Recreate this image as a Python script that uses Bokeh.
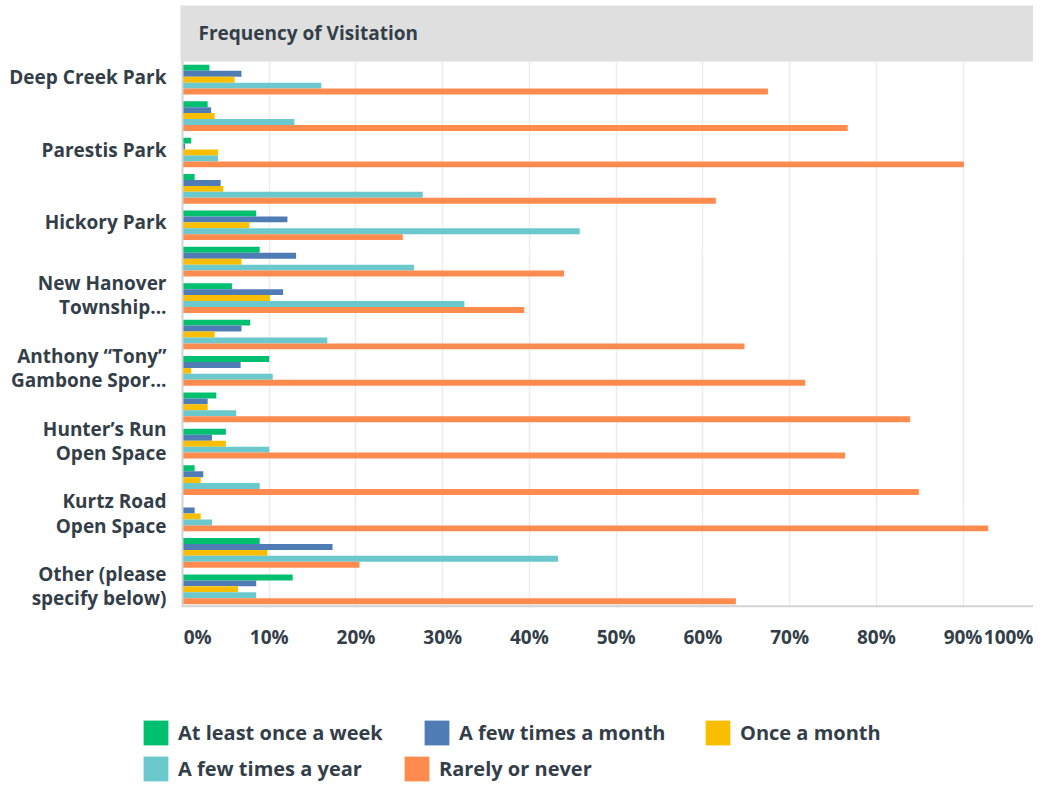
from bokeh.plotting import figure
from bokeh.layouts import column
from bokeh.models import (Range1d, FixedTicker, CustomJSTickFormatter, BoxAnnotation,
                          Span, Label, Legend, LegendItem, ColumnDataSource)
from bokeh.embed import file_html
from bokeh.resources import INLINE

# ---------------- data ----------------
# 15 parks; the chart only prints every other label
park_labels = [
    "Deep Creek Park", "", "Parestis Park", "", "Hickory Park", "",
    "New Hanover\nTownship...", "", "Anthony \u201cTony\u201d\nGambone Spor...", "",
    "Hunter\u2019s Run\nOpen Space", "", "Kurtz Road\nOpen Space", "",
    "Other (please\nspecify below)",
]
series_names = ["At least once a week", "A few times a month", "Once a month",
                "A few times a year", "Rarely or never"]
at_least_weekly = [3.1, 2.9, 1.0, 1.4, 8.5, 8.9, 5.7, 7.8, 10.0, 3.9, 5.0, 1.4, 0.0, 8.9, 12.7]
few_times_month = [6.8, 3.3, 0.3, 4.4, 12.1, 13.1, 11.6, 6.8, 6.7, 2.9, 3.4, 2.4, 1.4, 17.3, 8.5]
once_a_month = [6.0, 3.7, 4.1, 4.7, 7.7, 6.8, 10.1, 3.7, 1.0, 2.9, 5.0, 2.1, 2.1, 9.8, 6.4]
few_times_year = [16.0, 12.9, 4.1, 27.7, 45.8, 26.7, 32.5, 16.7, 10.4, 6.2, 10.0, 8.9, 3.4, 43.3, 8.5]
rarely_never = [67.5, 76.7, 90.1, 61.5, 25.4, 44.0, 39.4, 64.8, 71.8, 83.9, 76.4, 84.9, 92.9, 20.4, 63.8]
x_tick_labels = ["0%", "10%", "20%", "30%", "40%", "50%", "60%", "70%", "80%", "90%", "100%"]
chart_title = "Frequency of Visitation"

series_values = [at_least_weekly, few_times_month, once_a_month, few_times_year, rarely_never]
colors = ["#00bf6f", "#507cb6", "#f9be00", "#6bc8cd", "#ff8b4f"]
TEXT = "#333e48"
FONT = "Open Sans"

W = 1033
H_MAIN, H_LEG = 660, 124
FRAME_LEFT = 140          # frame starts left of the 0% line so the legend can sit there
PX_PER_PCT = 8.673
x_start = -(182 - FRAME_LEFT) / PX_PER_PCT
x_end = x_start + (W - FRAME_LEFT) / PX_PER_PCT
n = len(park_labels)
header_units = 1.538
p = figure(width=W, height=H_MAIN, output_backend="svg", toolbar_location=None,
           x_range=Range1d(x_start, x_end), y_range=Range1d(n - 0.5, -0.5 - header_units),
           min_border_left=FRAME_LEFT, min_border_right=0, min_border_top=5,
           min_border_bottom=53)
p.outline_line_color = None
p.background_fill_color = "white"
p.border_fill_color = "white"

# grid
p.ygrid.visible = False
p.xgrid.ticker = FixedTicker(ticks=[10, 20, 30, 40, 50, 60, 70, 80, 90, 100])
p.xgrid.grid_line_color = "#ececec"
p.xgrid.grid_line_width = 1.5

# x axis (end labels nudged inside like the original)
x_tick_pos = [1.75] + [10 * i for i in range(1, 10)] + [96.6]
p.xaxis.ticker = FixedTicker(ticks=x_tick_pos)
p.xaxis.formatter = CustomJSTickFormatter(args=dict(labels=x_tick_labels),
                                          code="return labels[index]")
p.xaxis.axis_line_color = None
p.xaxis.major_tick_line_color = None
p.xaxis.minor_tick_line_color = None
p.xaxis.major_label_standoff = 10
p.xaxis.major_label_text_font = FONT
p.xaxis.major_label_text_font_style = "bold"
p.xaxis.major_label_text_font_size = "19px"
p.xaxis.major_label_text_color = TEXT

# y axis (labels reach into the blank strip left of the 0% line)
label_idx = [i for i, s in enumerate(park_labels) if s]
p.yaxis.ticker = FixedTicker(ticks=[i - 0.08 for i in label_idx])
p.yaxis.formatter = CustomJSTickFormatter(args=dict(labels=[park_labels[i] for i in label_idx]),
                                          code="return labels[index]")
p.yaxis.axis_line_color = None
p.yaxis.major_tick_line_color = None
p.yaxis.minor_tick_line_color = None
p.yaxis.major_label_standoff = FRAME_LEFT - 172
p.yaxis.major_label_text_font = FONT
p.yaxis.major_label_text_font_style = "bold"
p.yaxis.major_label_text_font_size = "19px"
p.yaxis.major_label_text_color = TEXT
p.yaxis.major_label_text_line_height = 0.93

# left line, bottom line, header band
p.add_layout(Span(location=0, dimension="height", line_color="#d3d3d3", line_width=2))
p.add_layout(BoxAnnotation(left=0, right=x_end, bottom=n - 0.5, top=n - 0.5 - 0.06,
                           fill_color="#d3d3d3", fill_alpha=1, line_color=None))
p.add_layout(BoxAnnotation(left=-0.23, right=x_end, top=-0.5 - header_units - 0.1, bottom=-0.5,
                           fill_color="#dfdfdf", fill_alpha=1, line_color=None))
p.add_layout(Label(x=0, y=-0.5 - header_units / 2, x_offset=16, text=chart_title,
                   text_baseline="middle", text_font=FONT, text_font_style="bold",
                   text_font_size="19px", text_color=TEXT))

# bars
bar_h = 0.163
for j, (name, vals, col) in enumerate(zip(series_names, series_values, colors)):
    src = ColumnDataSource(dict(y=[i + (j - 2) * bar_h for i in range(n)], right=vals))
    p.hbar(y="y", left=0, right="right", height=bar_h, source=src,
           fill_color=col, line_color=None)

# ---------------- legend strip below the chart ----------------
pl = figure(width=W, height=H_LEG, output_backend="svg", toolbar_location=None,
            x_range=Range1d(0, 1), y_range=Range1d(0, 1),
            x_axis_location=None, y_axis_location=None,
            min_border_left=FRAME_LEFT, min_border_right=0,
            min_border_top=0, min_border_bottom=0)
pl.outline_line_color = None
pl.grid.visible = False
pl.border_fill_color = "white"
pl.background_fill_color = "white"
# zero-size swatch renderers that only feed the legend
leg_renderers = [pl.hbar(y=[-5], right=[-5], left=[-5], height=0, fill_color=c, line_color=None)
                 for c in colors]

def make_legend(idx, label_w, loc):
    return Legend(items=[LegendItem(label=series_names[k], renderers=[leg_renderers[k]]) for k in idx],
                  location=loc, orientation="horizontal",
                  glyph_width=31, glyph_height=31, label_standoff=7,
                  label_width=label_w, spacing=0, padding=0, margin=0,
                  background_fill_alpha=0, border_line_color=None,
                  label_text_font=FONT, label_text_font_size="20px",
                  label_text_font_style="bold",
                  label_text_color=TEXT, label_height=31)

pl.add_layout(make_legend([0, 1, 2], 243, (0, 36)))
pl.add_layout(make_legend([3, 4], 223, (0, 0)))

layout = column(p, pl, spacing=0)
open("out.html", "w").write(file_html(layout, INLINE))
